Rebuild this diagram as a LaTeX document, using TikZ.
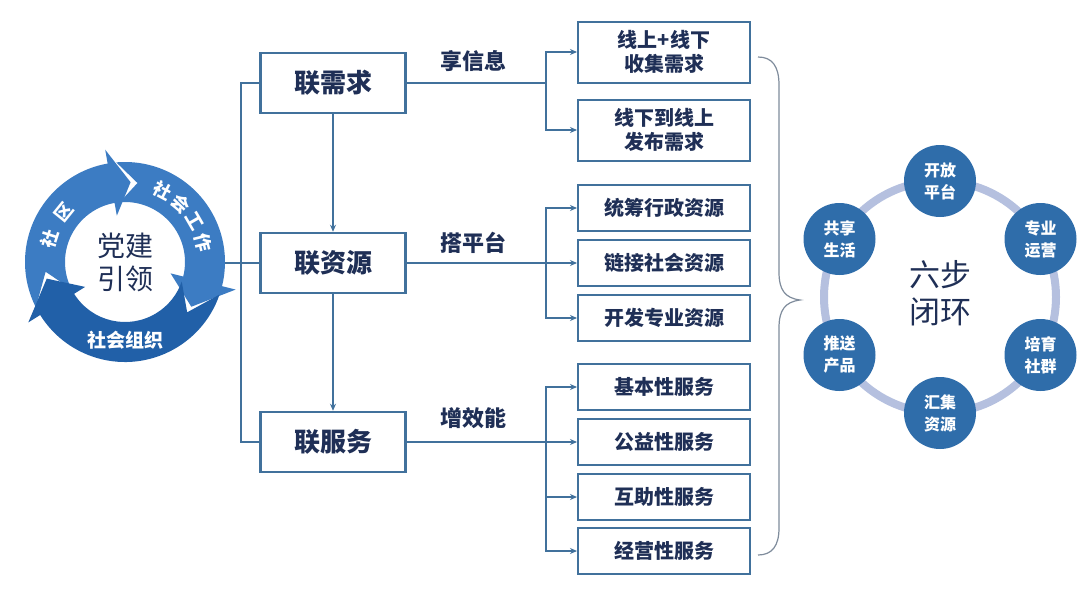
\documentclass[tikz,border=0pt]{standalone}
\usepackage{fontspec}
\setmainfont{Noto Sans CJK SC}
\usetikzlibrary{arrows.meta}
\definecolor{boxline}{HTML}{41719C}
\definecolor{navy}{HTML}{1F2F56}
\definecolor{cycA}{HTML}{3C7CC3}
\definecolor{cycB}{HTML}{2160A8}
\definecolor{dotc}{HTML}{2F6DAA}
\definecolor{ringc}{HTML}{B5C0DF}
\definecolor{bracec}{HTML}{7F8C9C}
\begin{document}
\begin{tikzpicture}[x=1pt,y=-1pt,
  mainbox/.style={draw=boxline, line width=2.5pt, minimum width=145pt, minimum height=60pt, inner sep=0pt, font=\fontsize{26}{28}\selectfont\bfseries, text=navy},
  subbox/.style={draw=boxline, line width=2pt, minimum width=172pt, inner sep=0pt, font=\fontsize{20}{24}\selectfont\bfseries, text=navy, align=center},
  lbl/.style={font=\fontsize{22}{24}\selectfont\bfseries, text=navy},
  link/.style={draw=boxline, line width=1.6pt},
  arr/.style={link, -{Stealth[length=7pt,width=6pt]}},
  stepdot/.style={circle, fill=dotc, minimum size=72pt, inner sep=0pt, text=white, font=\fontsize{16}{22}\selectfont\bfseries, align=center},
  cyclbl/.style={text=white, inner sep=0pt, font=\fontsize{18}{20}\selectfont\bfseries},
]
\useasboundingbox (0,0) rectangle (1080,608);
\fill[white] (0,0) rectangle (1080,608);

% ---- left cycle ----
\begin{scope}[shift={(125pt,-262pt)}]
\fill[cycA] (207:100pt) arc[start angle=207,end angle=100,radius=100pt] -- (100:114pt) -- (86:80pt) -- (100:47pt) -- (100:60pt) arc[start angle=100,end angle=207,radius=60pt] -- (187:80pt) -- cycle;
\fill[cycA] (95:100pt) arc[start angle=95,end angle=-14,radius=100pt] -- (-14:114pt) -- (-34:80pt) -- (-14:47pt) -- (-14:60pt) arc[start angle=-14,end angle=95,radius=60pt] -- (81:80pt) -- cycle;
\fill[cycB] (-19:100pt) arc[start angle=-19,end angle=-148,radius=100pt] -- (-148:114pt) -- (-168:80pt) -- (-148:47pt) -- (-148:60pt) arc[start angle=-148,end angle=-19,radius=60pt] -- (-39:80pt) -- cycle;
\node[cyclbl, rotate=72] (sq1) at (163:79pt) {社};
\node[cyclbl, rotate=51] (sq2) at (141:79pt) {区};
\node[cyclbl, rotate=-28] (sg1) at (62:81pt) {社};
\node[cyclbl, rotate=-44] (sg2) at (46:81pt) {会};
\node[cyclbl, rotate=-60] (sg3) at (30:81pt) {工};
\node[cyclbl, rotate=-76] (sg4) at (14:81pt) {作};
\node[cyclbl, font=\fontsize{19}{20}\selectfont\bfseries] (sz) at (-90:78pt) {社会组织};
\node[font=\fontsize{28}{33}\selectfont, text=navy, align=center] (dj) at (0pt,0pt) {党建\\引领};
\end{scope}
\coordinate (cyc) at (225,263);

% ---- main boxes ----
\node[mainbox] (xq) at (333,83) {联需求};
\node[mainbox] (xr) at (333,263) {联资源};
\node[mainbox] (xs) at (333,442) {联服务};

% ---- sub boxes ----
\node[subbox, minimum height=61pt] (b1) at (664,52) {线上+线下\\收集需求};
\node[subbox, minimum height=61pt] (b2) at (664,130) {线下到线上\\发布需求};
\node[subbox, minimum height=46pt] (b3) at (664,208) {统筹行政资源};
\node[subbox, minimum height=46pt] (b4) at (664,263) {链接社会资源};
\node[subbox, minimum height=46pt] (b5) at (664,318) {开发专业资源};
\node[subbox, minimum height=46pt] (b6) at (664,387) {基本性服务};
\node[subbox, minimum height=46pt] (b7) at (664,442) {公益性服务};
\node[subbox, minimum height=46pt] (b8) at (664,497) {互助性服务};
\node[subbox, minimum height=46pt] (b9) at (664,551) {经营性服务};

% ---- labels ----
\node[lbl] (l1) at (473,61) {享信息};
\node[lbl] (l2) at (473,243) {搭平台};
\node[lbl] (l3) at (473,418) {增效能};

% ---- connectors ----
\coordinate (L1) at (241,83);
\coordinate (L3) at (241,442);
\coordinate (j1) at (546,83);
\coordinate (j2) at (546,263);
\coordinate (j3) at (546,442);
\draw[link] (xq.west) -- (L1) -- (L3) -- (xs.west);
\draw[link] (cyc) -- (xr.west);
\draw[arr] (xq.south) -- (xr.north);
\draw[arr] (xr.south) -- (xs.north);
\draw[link] (xq.east) -- (j1);
\draw[arr] (j1) |- (b1.west);
\draw[arr] (j1) |- (b2.west);
\draw[arr] (xr.east) -- (b4.west);
\draw[arr] (j2) |- (b3.west);
\draw[arr] (j2) |- (b5.west);
\draw[arr] (xs.east) -- (b7.west);
\draw[arr] (j3) |- (b6.west);
\draw[arr] (j3) |- (b8.west);
\draw[arr] (j3) |- (b9.west);

% ---- brace ----
\draw[bracec, line width=1.2pt] (758,57) .. controls (772,57) and (779,66) .. (779,85) -- (779,272) .. controls (779,290) and (785,298) .. (800,300) .. controls (785,302) and (779,310) .. (779,328) -- (779,528) .. controls (779,546) and (772,555) .. (758,555);

% ---- six-step ring ----
\draw[ringc, line width=8pt] (940,297) circle[radius=116pt];
\node[font=\fontsize{31}{37}\selectfont, text=navy, align=center] (six) at (940,293) {六步\\闭环};
\node[stepdot] (p1) at (940,181) {开放\\平台};
\node[stepdot] (p2) at (1040.5,239) {专业\\运营};
\node[stepdot] (p3) at (1040.5,355) {培育\\社群};
\node[stepdot] (p4) at (940,413) {汇集\\资源};
\node[stepdot] (p5) at (839.5,355) {推送\\产品};
\node[stepdot] (p6) at (839.5,239) {共享\\生活};
\end{tikzpicture}
\end{document}
